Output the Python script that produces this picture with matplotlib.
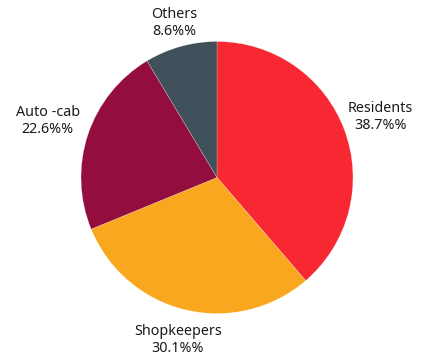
import numpy as np
import matplotlib
matplotlib.use("Agg")
import matplotlib.pyplot as plt

categories = ["Residents", "Shopkeepers", "Auto -cab", "Others"]
shares = [38.7, 30.1, 22.6, 8.6]
colors = ["#F72832", "#F9A71E", "#930D3E", "#3F505B"]
label_dist = [1.28, 1.23, 1.31, 1.18]

plt.rcParams["font.family"] = ["Noto Sans", "DejaVu Sans"]

fig = plt.figure(figsize=(4.27, 3.59), dpi=100)
ax = fig.add_axes([0, 0, 1, 1])
ax.set_aspect("equal")
ax.axis("off")

R = 136.0
cx, cy = 217.0, 177.5
W, H = 427.0, 359.0

wedges, _ = ax.pie(shares, colors=colors, startangle=90, counterclock=False,
                   radius=1.0, wedgeprops=dict(edgecolor="white", linewidth=0.15))

ax.set_xlim(-cx / R, (W - cx) / R)
ax.set_ylim(-(H - cy) / R, cy / R)

for w, name, val, d in zip(wedges, categories, shares, label_dist):
    ang = np.deg2rad((w.theta1 + w.theta2) / 2)
    ax.text(d * np.cos(ang), d * np.sin(ang), f"{name}\n{val}%%",
            ha="center", va="center", fontsize=10.3, color="#1a1a1a",
            linespacing=1.2)

fig.savefig("out.png", dpi=100)
